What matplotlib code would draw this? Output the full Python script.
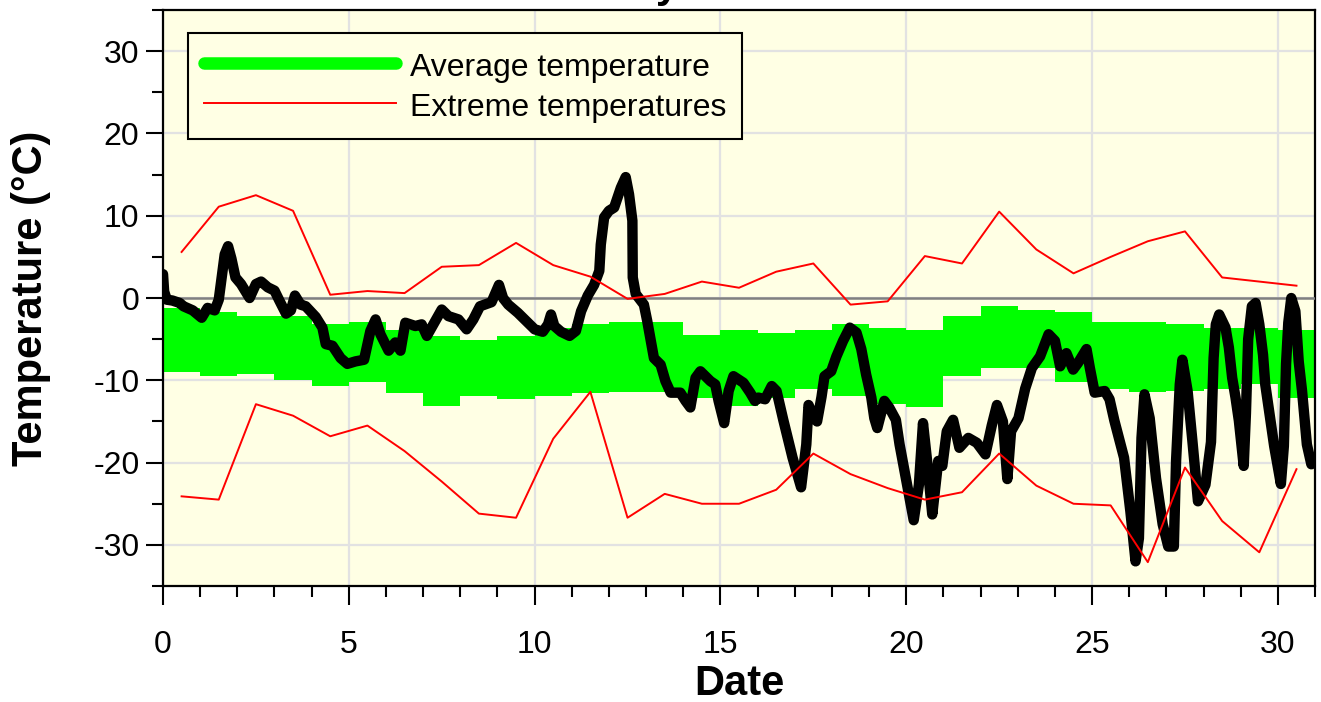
import numpy as np
import matplotlib
matplotlib.use("Agg")
import matplotlib.pyplot as plt
from matplotlib.lines import Line2D
from matplotlib.ticker import MultipleLocator

plt.rcParams['font.family'] = ['Liberation Sans', 'DejaVu Sans']
plt.rcParams['axes.unicode_minus'] = False

# daily values (one per day of the month)
days = np.arange(31)
avg_high = [-1.2, -1.7, -2.2, -2.2, -3.2, -2.9, -3.9, -4.6, -5.1, -4.6, -3.6,
            -3.2, -2.9, -2.9, -4.5, -3.9, -4.3, -3.9, -3.2, -3.6, -3.9, -2.2,
            -1.0, -1.5, -1.7, -2.9, -2.9, -3.2, -3.7, -3.7, -3.9]
avg_low = [-9.0, -9.5, -9.2, -10.0, -10.7, -10.2, -11.6, -13.1, -11.9, -12.3, -11.9,
           -11.6, -11.4, -11.4, -12.1, -13.1, -12.1, -11.0, -11.9, -12.9, -13.3, -9.5,
           -8.5, -8.5, -10.2, -11.1, -11.4, -11.3, -11.1, -10.4, -12.1]
max_temp = [5.6, 11.1, 12.5, 10.6, 0.4, 0.85, 0.6, 3.8, 4.0, 6.7, 4.0, 2.6, -0.1,
            0.5, 2.0, 1.25, 3.2, 4.2, -0.8, -0.4, 5.1, 4.2, 10.5, 5.9, 3.0, 5.0,
            6.9, 8.1, 2.5, 2.0, 1.5]
min_temp = [-24.1, -24.5, -12.9, -14.3, -16.8, -15.5, -18.6, -22.3, -26.2, -26.7,
            -17.1, -11.4, -26.7, -23.8, -25.0, -25.0, -23.3, -18.9, -21.4, -23.1,
            -24.5, -23.6, -18.9, -22.8, -25.0, -25.2, -32.1, -20.6, -27.1, -30.9, -20.8]

# measured temperature (time in days, temperature in C)
meas_time = [0.00, 0.03, 0.10, 0.25, 0.45, 0.55, 0.80, 1.04, 1.20, 1.39, 1.50, 1.58,
             1.66, 1.75, 1.84, 1.95, 2.10, 2.33, 2.50, 2.64, 2.82, 3.00, 3.13, 3.31,
             3.44, 3.55, 3.70, 3.84, 4.11, 4.29, 4.38, 4.56, 4.78, 4.96, 5.18, 5.41,
             5.58, 5.72, 5.85, 6.07, 6.25, 6.39, 6.52, 6.79, 6.96, 7.10, 7.30, 7.50,
             7.68, 7.95, 8.17, 8.35, 8.53, 8.84, 9.04, 9.15, 9.29, 9.55, 9.73, 10.00,
             10.22, 10.36, 10.44, 10.53, 10.71, 10.94, 11.11, 11.25, 11.43, 11.60,
             11.74, 11.78, 11.87, 12.00, 12.14, 12.23, 12.32, 12.45, 12.54, 12.63,
             12.64, 12.72, 12.94, 13.03, 13.21, 13.39, 13.52, 13.66, 13.92, 14.06,
             14.19, 14.33, 14.46, 14.73, 14.86, 14.95, 15.10, 15.22, 15.35, 15.62,
             15.80, 15.93, 16.02, 16.20, 16.38, 16.51, 16.69, 16.94, 17.17, 17.31,
             17.37, 17.50, 17.60, 17.72, 17.80, 17.98, 18.12, 18.30, 18.48, 18.66,
             18.79, 18.92, 19.06, 19.14, 19.22, 19.41, 19.54, 19.72, 19.82, 19.99,
             20.20, 20.34, 20.45, 20.57, 20.70, 20.86, 20.97, 21.09, 21.26, 21.43,
             21.67, 21.90, 22.13, 22.30, 22.44, 22.60, 22.72, 22.82, 23.02, 23.20,
             23.38, 23.60, 23.83, 24.00, 24.14, 24.31, 24.49, 24.62, 24.85, 24.94,
             25.07, 25.34, 25.47, 25.60, 25.86, 26.03, 26.17, 26.26, 26.33, 26.41,
             26.55, 26.72, 26.90, 27.05, 27.20, 27.26, 27.36, 27.43, 27.57, 27.70,
             27.85, 28.05, 28.20, 28.27, 28.33, 28.42, 28.59, 28.68, 28.77, 28.86,
             28.95, 29.08, 29.14, 29.20, 29.30, 29.40, 29.50, 29.60, 29.66, 29.75,
             29.90, 30.08, 30.16, 30.22, 30.28, 30.36, 30.47, 30.56, 30.65, 30.78,
             30.90, 30.97]
meas_temp = [2.9, 0.8, -0.2, -0.3, -0.6, -1.0, -1.5, -2.4, -1.2, -1.5, -0.2, 2.5,
             5.3, 6.3, 4.8, 2.5, 1.7, 0.0, 1.7, 2.0, 1.3, 0.9, -0.3, -1.9,
             -1.5, 0.3, -0.8, -1.0, -2.3, -3.6, -5.6, -5.8, -7.3, -8.0, -7.7, -7.5,
             -4.0, -2.6, -4.4, -6.4, -5.4, -6.4, -3.0, -3.4, -3.2, -4.6, -3.0, -1.4,
             -2.2, -2.6, -3.8, -2.6, -1.0, -0.5, 1.6, 0.0, -0.8, -1.8, -2.6, -3.8,
             -4.1, -3.2, -2.0, -3.4, -4.1, -4.6, -4.0, -1.6, 0.3, 1.6,
             3.3, 6.5, 9.8, 10.6, 11.0, 12.2, 13.4, 14.7, 12.6, 9.4,
             2.5, 0.5, -0.8, -2.8, -7.3, -8.1, -10.1, -11.5, -11.5, -12.5,
             -13.3, -9.7, -8.9, -10.1, -10.5, -12.5, -15.2, -11.3, -9.5, -10.3,
             -11.5, -12.5, -12.1, -12.3, -10.7, -11.3, -14.8, -19.4, -23.0, -17.8,
             -13.0, -14.4, -15.0, -12.0, -9.5, -8.9, -7.1, -5.2, -3.6, -4.2,
             -6.2, -9.3, -12.1, -14.6, -15.8, -12.5, -13.3, -14.8, -17.8, -21.9,
             -27.0, -22.7, -15.2, -20.2, -26.3, -19.8, -20.4, -16.2, -14.8, -18.2,
             -17.0, -17.6, -19.0, -15.5, -13.0, -15.0, -22.0, -16.2, -14.6, -11.0,
             -8.5, -7.1, -4.4, -5.2, -8.3, -6.7, -8.7, -7.9, -6.2, -8.5,
             -11.5, -11.3, -12.3, -14.9, -19.4, -25.9, -32.0, -29.2, -17.0, -11.7,
             -14.6, -21.9, -27.5, -30.2, -30.2, -19.8, -10.5, -7.5, -11.3, -17.4,
             -24.7, -22.7, -17.5, -7.3, -3.2, -2.0, -3.6, -6.0, -9.7, -12.1,
             -14.9, -20.4, -14.0, -5.0, -1.0, -0.6, -3.2, -6.9, -10.5, -13.3,
             -18.0, -22.6, -18.0, -8.0, -3.0, 0.0, -1.6, -7.7, -11.3, -17.8,
             -20.2, -19.5]

fig = plt.figure(figsize=(13.21, 7.02), dpi=100)
ax = fig.add_axes([0.1234, 0.1652, 0.8721, 0.8205])
ax.set_facecolor('#ffffe4')

# green band, one step per day
edges = np.append(days, 31)
ax.fill_between(edges, np.append(avg_low, avg_low[-1]), np.append(avg_high, avg_high[-1]),
                step='post', color='#00ff00', linewidth=0, zorder=2)

ax.axhline(0, color='#808080', lw=1.8, zorder=3)

ax.plot(meas_time, meas_temp, color='black', lw=7.5, solid_joinstyle='round',
        solid_capstyle='round', zorder=4)

noon = days + 0.5
ax.plot(noon, max_temp, color='red', lw=1.4, zorder=5)
ax.plot(noon, min_temp, color='red', lw=1.4, zorder=5)

ax.set_xlim(0, 31)
ax.set_ylim(-35, 35)
ax.xaxis.set_major_locator(MultipleLocator(5))
ax.xaxis.set_minor_locator(MultipleLocator(1))
ax.yaxis.set_major_locator(MultipleLocator(10))
ax.yaxis.set_minor_locator(MultipleLocator(5))
ax.grid(True, which='major', color='#e2e2e2', lw=1.6, zorder=0)
ax.set_axisbelow(True)

ax.tick_params(which='major', direction='out', length=14, width=1.5, labelsize=23)
ax.tick_params(axis='y', which='major', length=12, pad=5)
ax.tick_params(axis='x', which='major', pad=18)
ax.tick_params(which='minor', direction='out', length=8, width=1.5)
for sp in ax.spines.values():
    sp.set_linewidth(1.6)

ax.set_xlabel('Date', fontsize=30, fontweight='bold')
ax.set_ylabel('Temperature (\u00b0C)', fontsize=30, fontweight='bold')
ax.xaxis.set_label_coords(0.5, -0.135)
ax.yaxis.set_label_coords(-0.097, 0.5)

handles = [Line2D([], [], color='#00ff00', lw=9, solid_capstyle='round'),
           Line2D([], [], color='red', lw=1.4)]
leg = ax.legend(handles, ['Average temperature', 'Extreme temperatures'],
                loc='upper left', bbox_to_anchor=(0.0217, 0.960), borderaxespad=0,
                fontsize=23, handlelength=6.0, handleheight=1.2, handletextpad=0.45,
                labelspacing=0.18, borderpad=0.5, fancybox=False, framealpha=1,
                facecolor='#ffffe4', edgecolor='black')
leg.get_frame().set_linewidth(1.5)

# title sits above the canvas, only the descender shows
fig.text(0.514, 1.004, 'January', ha='right', va='baseline', fontsize=30,
         fontweight='bold')

fig.savefig('out.png', dpi=100)
